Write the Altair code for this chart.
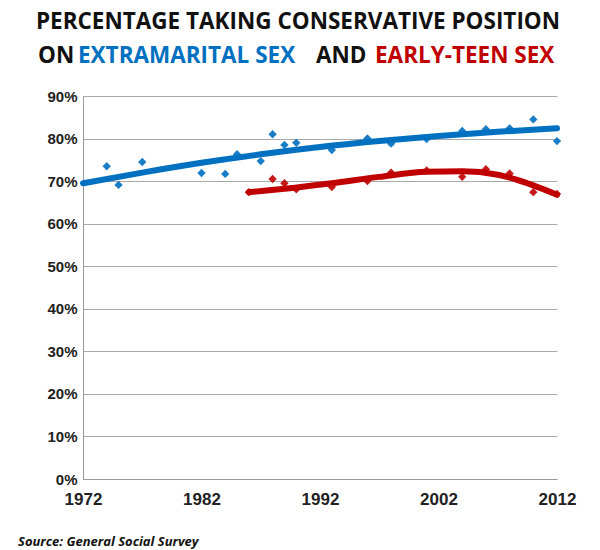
import altair as alt
import pandas as pd

blue_years = [1974, 1975, 1977, 1982, 1984, 1985, 1987, 1988, 1989, 1990, 1993, 1996, 1998, 2001, 2004, 2006, 2008, 2010, 2012]
blue_vals = [73.5, 69.1, 74.5, 71.9, 71.7, 76.3, 74.7, 81.0, 78.5, 79.0, 77.3, 80.0, 78.8, 79.9, 81.8, 82.2, 82.4, 84.5, 79.4]
red_years = [1986, 1988, 1989, 1990, 1993, 1996, 1998, 2001, 2004, 2006, 2008, 2010, 2012]
red_vals = [67.4, 70.5, 69.5, 68.1, 68.6, 70.0, 72.0, 72.5, 71.0, 72.8, 71.8, 67.4, 67.0]
blue_trend_years = [1972, 1977, 1982, 1987, 1992, 1997, 2002, 2007, 2012]
blue_trend = [69.5, 72.0, 74.3, 76.3, 78.0, 79.4, 80.6, 81.6, 82.4]
red_trend_years = [1986, 1989, 1993, 1997, 2001, 2004, 2007, 2010, 2012]
red_trend = [67.4, 68.2, 69.5, 71.0, 72.2, 72.3, 71.5, 69.0, 66.8]

BLUE = "#0070c0"
PT_BLUE = "#4f81bd"
RED = "#c00000"
PT_RED = "#c0504d"

pts = pd.DataFrame({"year": blue_years + red_years,
                    "val": blue_vals + red_vals,
                    "s": ["b"] * len(blue_years) + ["r"] * len(red_years)})
trend = pd.DataFrame({"year": blue_trend_years + red_trend_years,
                      "val": blue_trend + red_trend,
                      "s": ["b"] * len(blue_trend_years) + ["r"] * len(red_trend_years)})

x = alt.X("year:Q", scale=alt.Scale(domain=[1972, 2012], nice=False),
          axis=alt.Axis(values=[1972, 1982, 1992, 2002, 2012], format="d", title=None,
                        grid=False, labelFontSize=17, labelFontWeight="bold", labelColor="#222",
                        labelPadding=12, ticks=False, domainColor="#999",
                        labelFlush=False))
y = alt.Y("val:Q", scale=alt.Scale(domain=[0, 90], nice=False),
          axis=alt.Axis(values=list(range(0, 91, 10)), title=None,
                        labelExpr="datum.value + '%'", labelFontSize=15, labelFontWeight="bold",
                        labelColor="#222", gridColor="#aaa", domainColor="#999",
                        ticks=False, labelPadding=6))
col = alt.Color("s:N", scale=alt.Scale(domain=["b", "r"], range=[PT_BLUE, PT_RED]), legend=None)
col2 = alt.Color("s:N", scale=alt.Scale(domain=["b", "r"], range=[BLUE, RED]), legend=None)

points = alt.Chart(pts).mark_point(shape="diamond", filled=True, size=70, opacity=0.9).encode(x=x, y=y, color=col)
lines = alt.Chart(trend).mark_line(strokeWidth=6, interpolate="monotone", strokeCap="round").encode(
    x=x, y=y, color=col2, detail="s:N")

def txt(t, xv, yv, color="#111", align="left", size=22.5, style="normal"):
    return alt.Chart(pd.DataFrame({"t": [t]})).mark_text(
        align=align, baseline="middle", font="Open Sans", fontWeight="bold", fontSize=size,
        color=color, fontStyle=style).encode(text="t:N", x=alt.value(xv), y=alt.value(yv))

title = (txt("PERCENTAGE TAKING CONSERVATIVE POSITION", 215, -74, align="center")
         + txt("ON", -45, -40)
         + txt("EXTRAMARITAL SEX", -5, -40, color=BLUE)
         + txt("AND", 233, -40)
         + txt("EARLY-TEEN SEX", 292, -40, color=RED)
         + txt("Source: General Social Survey", -65, 446, size=13, style="italic"))

chart = (lines + points + title).properties(
    width=474, height=383, autosize="none",
    padding={"left": 75, "top": 88, "right": 30, "bottom": 70},
    background="white"
).configure_view(stroke=None)

chart.save("out.html", embed_options={"renderer": "svg", "actions": False})
